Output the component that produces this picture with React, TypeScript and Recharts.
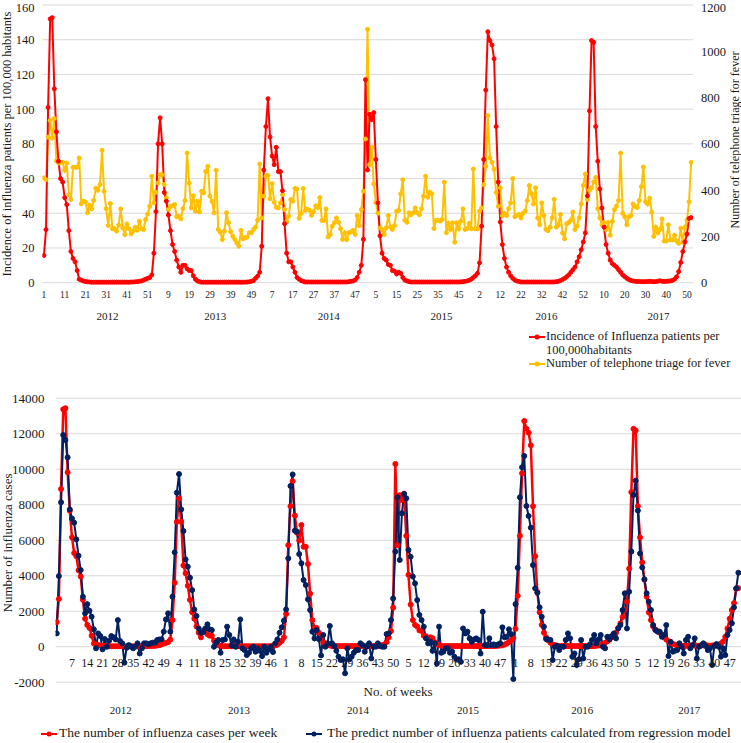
import React from "react";
import { LineChart, Line, XAxis, YAxis, CartesianGrid } from "recharts";

// Incidence of influenza patients per 100,000 (top chart, left axis), one array per year
const incid2012 = [15.7, 30.6, 101, 152, 152.7, 111.7, 87, 70, 60, 58, 49, 45, 30, 18, 14, 12, 7, 2, 1.5, 1, 0.7, 0.5, 0.4, 0.3, 0.3, 0.3, 0.3, 0.3, 0.3, 0.3, 0.3, 0.3, 0.3, 0.3, 0.3, 0.3, 0.3, 0.3, 0.3, 0.3, 0.3, 0.3, 0.4, 0.4, 0.5, 0.6, 0.8, 1.0, 1.5, 2, 2.5, 3];
const incid2013 = [4.5, 17, 41, 80, 95, 80, 52, 47, 39, 30, 22, 18, 13, 9, 6, 10, 10, 8, 7, 7, 4, 2, 1, 0.6, 0.3, 0.3, 0.3, 0.3, 0.3, 0.3, 0.3, 0.3, 0.3, 0.3, 0.3, 0.3, 0.3, 0.3, 0.3, 0.3, 0.3, 0.3, 0.3, 0.3, 0.3, 0.3, 0.4, 0.5, 0.8, 1.2, 2.5, 3.8];
const incid2014 = [6, 21, 65, 90, 106, 84, 73, 68, 78, 64, 64, 53, 34, 17, 12, 12, 9, 6, 3, 2, 1.2, 0.8, 0.4, 0.4, 0.4, 0.4, 0.4, 0.4, 0.4, 0.4, 0.4, 0.4, 0.4, 0.4, 0.4, 0.4, 0.4, 0.4, 0.4, 0.4, 0.4, 0.4, 0.4, 0.6, 0.8, 1, 1.5, 3, 6, 10, 25, 117];
const incid2015 = [65, 97, 94, 98, 71, 46, 27, 17, 14, 13, 10.5, 10, 7, 6.7, 5, 6, 5.4, 3, 1.5, 1, 0.6, 0.4, 0.4, 0.4, 0.4, 0.4, 0.4, 0.4, 0.4, 0.4, 0.4, 0.4, 0.4, 0.4, 0.4, 0.4, 0.4, 0.4, 0.4, 0.4, 0.4, 0.4, 0.4, 0.4, 0.4, 0.5, 0.6, 0.8, 1, 1.4, 2, 3, 4];
const incid2016 = [5.4, 11.5, 32.6, 71, 111, 144.6, 139.5, 137, 129, 90, 58, 35, 22, 14, 9, 6, 4, 2.5, 1.5, 1, 0.7, 0.4, 0.4, 0.4, 0.4, 0.4, 0.4, 0.4, 0.4, 0.4, 0.4, 0.4, 0.4, 0.4, 0.4, 0.4, 0.4, 0.4, 0.6, 0.8, 1.2, 1.8, 2.5, 3.5, 4.5, 6, 7.5, 9, 12, 15, 19, 23.5];
const incid2017 = [28.7, 50, 99, 139.5, 138.5, 90, 70, 54, 43, 32, 22, 17, 13, 11, 10, 9, 7.5, 6, 4.5, 3.5, 2.5, 1.8, 1.3, 1.0, 0.8, 0.7, 0.7, 0.6, 0.6, 0.6, 0.7, 0.8, 0.7, 0.6, 0.6, 0.9, 1.1, 0.8, 0.7, 0.8, 0.9, 1.0, 1.3, 2, 3.4, 6.4, 11.7, 18, 23.5, 28, 37, 37.5];

// Number of telephone triage for fever (top chart, right axis)
const triage2012 = [453, 445, 629, 701, 625, 710, 527, 517, 520, 520, 486, 517, 381, 359, 499, 499, 499, 539, 341, 352, 349, 302, 335, 319, 356, 408, 399, 424, 572, 395, 320, 247, 342, 233, 233, 223, 249, 319, 237, 208, 253, 233, 211, 223, 240, 227, 266, 233, 230, 273, 297, 330];
const triage2013 = [460, 345, 391, 431, 467, 467, 424, 366, 316, 330, 333, 338, 285, 287, 276, 320, 355, 560, 431, 323, 376, 309, 352, 306, 395, 388, 481, 503, 374, 352, 302, 486, 230, 218, 187, 223, 302, 259, 220, 201, 187, 172, 158, 226, 190, 194, 197, 216, 216, 230, 240, 270];
const triage2014 = [513, 280, 374, 460, 464, 363, 428, 348, 326, 323, 345, 381, 316, 263, 287, 359, 352, 407, 405, 278, 299, 407, 313, 318, 313, 291, 307, 332, 325, 368, 269, 269, 319, 198, 208, 244, 259, 280, 261, 233, 187, 216, 187, 216, 219, 226, 209, 290, 247, 316, 395, 621];
const triage2015 = [1095, 510, 585, 427, 347, 300, 236, 230, 208, 237, 290, 240, 230, 247, 309, 312, 384, 445, 270, 261, 302, 294, 302, 323, 302, 294, 319, 374, 460, 369, 391, 384, 234, 269, 270, 266, 273, 434, 216, 256, 230, 259, 175, 259, 233, 266, 319, 230, 234, 256, 233, 491, 233];
const triage2016 = [233, 309, 323, 424, 503, 722, 540, 520, 490, 390, 330, 410, 290, 300, 290, 320, 345, 450, 285, 290, 295, 280, 300, 310, 355, 420, 385, 340, 410, 280, 250, 345, 290, 230, 225, 240, 280, 360, 240, 250, 295, 215, 190, 255, 260, 270, 305, 230, 245, 280, 340, 420];
const triage2017 = [470, 360, 400, 410, 435, 455, 320, 280, 250, 260, 230, 260, 205, 265, 315, 330, 355, 560, 300, 285, 250, 285, 290, 340, 330, 325, 355, 415, 500, 350, 340, 365, 305, 200, 240, 215, 230, 275, 180, 180, 250, 185, 185, 205, 180, 170, 235, 175, 240, 270, 350, 520];

// Number of influenza cases per week (bottom chart)
const cases2012 = [1380, 2690, 8890, 13380, 13440, 9830, 7660, 6160, 5280, 5100, 4310, 3960, 2640, 1580, 1230, 1060, 620, 180, 130, 90, 60, 40, 35, 26, 26, 26, 26, 26, 26, 26, 26, 26, 26, 26, 26, 26, 26, 26, 26, 26, 26, 26, 35, 35, 44, 53, 70, 88, 130, 180, 220, 260];
const cases2013 = [400, 1500, 3610, 7040, 8360, 7040, 4580, 4140, 3430, 2640, 1940, 1580, 1140, 790, 530, 880, 880, 700, 620, 620, 350, 180, 90, 50, 26, 26, 26, 26, 26, 26, 26, 26, 26, 26, 26, 26, 26, 26, 26, 26, 26, 26, 26, 26, 26, 26, 35, 44, 70, 110, 220, 330];
const cases2014 = [530, 1850, 5720, 7920, 9330, 7390, 6420, 5980, 6860, 5630, 5630, 4660, 2990, 1500, 1060, 1060, 790, 530, 260, 180, 110, 70, 35, 35, 35, 35, 35, 35, 35, 35, 35, 35, 35, 35, 35, 35, 35, 35, 35, 35, 35, 35, 35, 53, 70, 88, 130, 260, 530, 880, 2200, 10300];
const cases2015 = [5720, 8540, 8270, 8620, 6250, 4050, 2380, 1500, 1230, 1140, 920, 880, 620, 590, 440, 530, 480, 260, 130, 90, 50, 35, 35, 35, 35, 35, 35, 35, 35, 35, 35, 35, 35, 35, 35, 35, 35, 35, 35, 35, 35, 35, 35, 35, 35, 44, 53, 70, 88, 120, 180, 260, 350];
const cases2016 = [480, 1010, 2870, 6250, 9770, 12720, 12280, 12060, 11350, 7920, 5100, 3080, 1940, 1230, 790, 530, 350, 220, 130, 90, 60, 35, 35, 35, 35, 35, 35, 35, 35, 35, 35, 35, 35, 35, 35, 35, 35, 35, 53, 70, 110, 160, 220, 310, 400, 530, 660, 790, 1060, 1320, 1670, 2070];
const cases2017 = [2530, 4400, 8710, 12280, 12190, 7920, 6160, 4750, 3780, 2820, 1940, 1500, 1140, 970, 880, 790, 660, 530, 400, 310, 220, 160, 110, 90, 70, 60, 60, 53, 53, 53, 60, 70, 60, 53, 53, 80, 97, 70, 60, 70, 80, 88, 110, 180, 300, 560, 1030, 1580, 2070, 2460, 3260, 3300];

// Predicted number from the regression model (bottom chart)
const predict2012 = [750, 3980, 8140, 11930, 11650, 10670, 7740, 7230, 6990, 6050, 5130, 4320, 2820, 1880, 2400, 2030, 1690, 980, -90, 750, 600, -150, 430, 0, 340, 600, 530, 410, 1500, 320, 190, -900, -60, 90, 0, -90, 0, 190, -380, -90, 190, 190, 150, 190, 230, 230, 380, 410, 420, 850, 1540, 1880];
const predict2013 = [850, 2820, 5320, 8680, 9730, 7740, 6520, 4920, 4510, 3890, 3190, 2100, 1730, 1030, 790, 810, 1030, 1260, 980, 940, 0, 240, 380, -340, 380, 410, 1130, 660, 60, 410, 0, 280, 1540, -90, -190, -470, -340, -90, 0, -280, -90, -230, -530, 0, -340, -150, 0, -300, 190, 410, 790, 1090];
const predict2014 = [1470, 2100, 4980, 9060, 9710, 6540, 6480, 5220, 4700, 3760, 3480, 2670, 2070, 850, 470, 940, 430, -490, 660, 0, 190, 1170, 190, 40, -230, -560, -750, -710, -1500, -90, -710, -560, -340, -190, -190, 190, 90, -280, 0, 190, -660, 0, 0, 190, 40, 0, 0, 710, 750, 1500, 2720, 5360];
const predict2015 = [8420, 4890, 7520, 8610, 8360, 5450, 5070, 3950, 3570, 2630, 1790, 1500, 1130, 470, 190, 280, -230, 190, -940, 1130, -340, -280, -90, -90, -340, -280, -560, -710, -710, -850, 1030, 750, 850, 470, 280, 410, 470, 380, -380, 1970, 90, 90, 470, 90, 130, 90, 130, 190, 1090, 530, 560, 980, 710];
const predict2016 = [-1820, 2400, 4450, 8420, 10110, 10750, 7930, 7370, 6710, 4600, 3290, 3040, 2220, 1690, 1130, 430, 410, 380, -750, 0, 40, -190, 0, 0, 380, 750, 470, -560, -380, -1030, -710, 380, -660, 0, 0, 130, 380, 660, 190, 410, 660, 0, -90, 560, 410, 600, 750, 470, 1030, 1220, 2070, 3010];
const predict2017 = [1030, 3100, 5360, 8550, 9360, 7670, 5260, 4470, 3800, 3010, 2540, 2070, 1220, 940, 850, 850, 560, 660, 1220, -530, 280, -280, -230, -190, 190, 0, -380, 380, 560, -90, 90, 470, -660, 0, 90, 190, 40, -190, -90, -1030, 40, 150, 0, -560, -90, -470, 660, 940, 1320, 2220, 3290, 4170];

const years = ["2012", "2013", "2014", "2015", "2016", "2017"];
const leftTicks = [0, 20, 40, 60, 80, 100, 120, 140, 160];
const rightTicks = [0, 200, 400, 600, 800, 1000, 1200];
const caseTicks = [-2000, 0, 2000, 4000, 6000, 8000, 10000, 12000, 14000];

// where the year captions sit, in week-index units (they are not centred on the years)
const YEAR_POS_TOP = [30.6, 82.6, 137.3, 191.7, 242.3, 296.3];
const YEAR_POS_BOT = [29.3, 83.4, 137.9, 188.3, 240.5, 289.5];

const incidence = [...incid2012, ...incid2013, ...incid2014, ...incid2015, ...incid2016, ...incid2017];
const triage = [...triage2012, ...triage2013, ...triage2014, ...triage2015, ...triage2016, ...triage2017];
const cases = [...cases2012, ...cases2013, ...cases2014, ...cases2015, ...cases2016, ...cases2017];
const predicted = [...predict2012, ...predict2013, ...predict2014, ...predict2015, ...predict2016, ...predict2017];

const weekNo: number[] = [];
[incid2012, incid2013, incid2014, incid2015, incid2016, incid2017].forEach((yr) => {
  yr.forEach((_, w) => weekNo.push(w + 1));
});

const topData = incidence.map((v, i) => ({ i, inc: v, tri: triage[i] }));
const botData = cases.map((v, i) => ({ i, cases: v, pred: predicted[i] }));

const topWeekTicks: number[] = [];
for (let i = 0; i < weekNo.length; i += 10) topWeekTicks.push(i);
// bottom labels every 7th week, drawn one slot to the right like the original
const botWeekTicks: number[] = [];
for (let j = 6; j < weekNo.length; j += 7) botWeekTicks.push(j + 1);

const TEXT = "#1a1a1a";
const RED = "#FF0000";
const YELLOW = "#FFC000";
const NAVY = "#002060";
const GRID = "#D9D9D9";
const FONT = '"Liberation Serif", "Times New Roman", serif';

function TopWeekTick(props: any) {
  const { x, payload } = props;
  return (
    <text x={x} y={294.5} textAnchor="middle" dominantBaseline="central" fontSize={9.5} fill={TEXT}>
      {weekNo[Math.round(payload.value)]}
    </text>
  );
}

function TopYearTick(props: any) {
  const { x, index } = props;
  return (
    <text x={x} y={315.5} textAnchor="middle" dominantBaseline="central" fontSize={11} fill={TEXT}>
      {years[index]}
    </text>
  );
}

function BotWeekTick(props: any) {
  const { x, payload } = props;
  return (
    <text x={x} y={287.7} textAnchor="middle" dominantBaseline="central" fontSize={12} fill={TEXT}>
      {weekNo[Math.round(payload.value) - 1]}
    </text>
  );
}

function BotYearTick(props: any) {
  const { x, index } = props;
  return (
    <text x={x} y={335} textAnchor="middle" dominantBaseline="central" fontSize={11} fill={TEXT}>
      {years[index]}
    </text>
  );
}

function Marker({ color }: { color: string }) {
  return (
    <svg width={16} height={8} style={{ display: "block" }}>
      <line x1={0} y1={4} x2={16} y2={4} stroke={color} strokeWidth={2} />
      <circle cx={8} cy={4} r={2.5} fill={color} />
    </svg>
  );
}

function LegendLine({ x, y, size, children }: { x: number; y: number; size: number; children: React.ReactNode }) {
  const lh = size + 3;
  return (
    <div
      style={{
        position: "absolute",
        left: x,
        top: y - lh / 2,
        fontSize: size,
        lineHeight: `${lh}px`,
        whiteSpace: "nowrap",
        color: TEXT,
      }}
    >
      {children}
    </div>
  );
}

function MarkerAt({ x, y, color }: { x: number; y: number; color: string }) {
  return (
    <div style={{ position: "absolute", left: x, top: y - 4 }}>
      <Marker color={color} />
    </div>
  );
}

export default function App() {
  return (
    <div
      style={{
        position: "absolute",
        left: 0,
        top: 0,
        width: 741,
        height: 743,
        background: "#fff",
        fontFamily: FONT,
        overflow: "hidden",
      }}
    >
      <div style={{ position: "absolute", left: 0, top: 0 }}>
        <LineChart width={741} height={330} data={topData} margin={{ top: 5, right: 0, bottom: 2, left: 0 }}>
          <CartesianGrid vertical={false} stroke={GRID} xAxisId="w" yAxisId="l" />
          <XAxis
            xAxisId="w"
            dataKey="i"
            type="number"
            domain={[-0.7, 312.9]}
            allowDataOverflow
            ticks={topWeekTicks}
            interval={0}
            axisLine={false}
            tickLine={false}
            height={20}
            tick={TopWeekTick}
          />
          <XAxis
            xAxisId="yr"
            dataKey="i"
            type="number"
            domain={[-0.7, 312.9]}
            allowDataOverflow
            ticks={YEAR_POS_TOP}
            interval={0}
            axisLine={false}
            tickLine={false}
            height={25.3}
            tick={TopYearTick}
          />
          <YAxis
            yAxisId="l"
            domain={[0, 160]}
            ticks={leftTicks}
            width={42.5}
            axisLine={false}
            tickLine={false}
            tick={{ fontSize: 12.5, fill: TEXT }}
            label={() => (
              <text x={7} y={144} transform="rotate(-90 7 144)" textAnchor="middle" dominantBaseline="central" fontSize={12.5} fill={TEXT}>
                Incidence of influenza patients per 100,000 habitants
              </text>
            )}
          />
          <YAxis
            yAxisId="r"
            orientation="right"
            domain={[0, 1200]}
            ticks={rightTicks}
            width={48}
            axisLine={false}
            tickLine={false}
            tick={{ fontSize: 12.5, fill: TEXT }}
            label={() => (
              <text x={735} y={140} transform="rotate(-90 735 140)" textAnchor="middle" dominantBaseline="central" fontSize={12} fill={TEXT}>
                Number of telephone triage for fever
              </text>
            )}
          />
          <Line
            xAxisId="w"
            yAxisId="r"
            type="linear"
            dataKey="tri"
            stroke={YELLOW}
            strokeWidth={2}
            dot={{ r: 2, fill: YELLOW, stroke: YELLOW, strokeWidth: 1 }}
            activeDot={false}
            isAnimationActive={false}
          />
          <Line
            xAxisId="w"
            yAxisId="l"
            type="linear"
            dataKey="inc"
            stroke={RED}
            strokeWidth={2}
            dot={{ r: 2, fill: RED, stroke: RED, strokeWidth: 1 }}
            activeDot={false}
            isAnimationActive={false}
          />
        </LineChart>
      </div>

      <MarkerAt x={529} y={337} color={RED} />
      <LegendLine x={546} y={337} size={12.5}>Incidence of Influenza patients per</LegendLine>
      <LegendLine x={546} y={351} size={12.5}>100,000habitants</LegendLine>
      <MarkerAt x={529} y={364} color={YELLOW} />
      <LegendLine x={546} y={364} size={12.5}>Number of telephone triage for fever</LegendLine>

      <div style={{ position: "absolute", left: 0, top: 375 }}>
        <LineChart width={741} height={368} data={botData} margin={{ top: 23.3, right: 0, bottom: 5.8, left: 0 }}>
          <CartesianGrid vertical={false} stroke={GRID} xAxisId="w" yAxisId="c" />
          <XAxis
            xAxisId="w"
            dataKey="i"
            type="number"
            domain={[-0.5, 313.2]}
            allowDataOverflow
            ticks={botWeekTicks}
            interval={0}
            axisLine={false}
            tickLine={false}
            height={10}
            tick={BotWeekTick}
          />
          <XAxis
            xAxisId="yr"
            dataKey="i"
            type="number"
            domain={[-0.5, 313.2]}
            allowDataOverflow
            ticks={YEAR_POS_BOT}
            interval={0}
            axisLine={false}
            tickLine={false}
            height={45}
            tick={BotYearTick}
            label={() => (
              <text x={398} y={316.7} textAnchor="middle" dominantBaseline="central" fontSize={13} fill={TEXT}>
                No. of weeks
              </text>
            )}
          />
          <YAxis
            yAxisId="c"
            domain={[-2000, 14000]}
            ticks={caseTicks}
            width={55.6}
            tickMargin={5}
            axisLine={false}
            tickLine={false}
            tick={{ fontSize: 13, fill: TEXT }}
            label={() => (
              <text x={7} y={168} transform="rotate(-90 7 168)" textAnchor="middle" dominantBaseline="central" fontSize={13} fill={TEXT}>
                Number of influenza cases
              </text>
            )}
          />
          <Line
            xAxisId="w"
            yAxisId="c"
            type="linear"
            dataKey="cases"
            stroke={RED}
            strokeWidth={2.5}
            dot={{ r: 2.5, fill: RED, stroke: RED, strokeWidth: 1 }}
            activeDot={false}
            isAnimationActive={false}
          />
          <Line
            xAxisId="w"
            yAxisId="c"
            type="linear"
            dataKey="pred"
            stroke={NAVY}
            strokeWidth={2}
            dot={{ r: 2.5, fill: NAVY, stroke: NAVY, strokeWidth: 1 }}
            activeDot={false}
            isAnimationActive={false}
          />
        </LineChart>
      </div>

      <MarkerAt x={41} y={733.5} color={RED} />
      <LegendLine x={59} y={733.5} size={13.5}>The number of influenza cases per week</LegendLine>
      <MarkerAt x={306} y={733.5} color={NAVY} />
      <LegendLine x={327} y={733.5} size={13.5}>The predict number of influenza patients calculated from regression model</LegendLine>
    </div>
  );
}
